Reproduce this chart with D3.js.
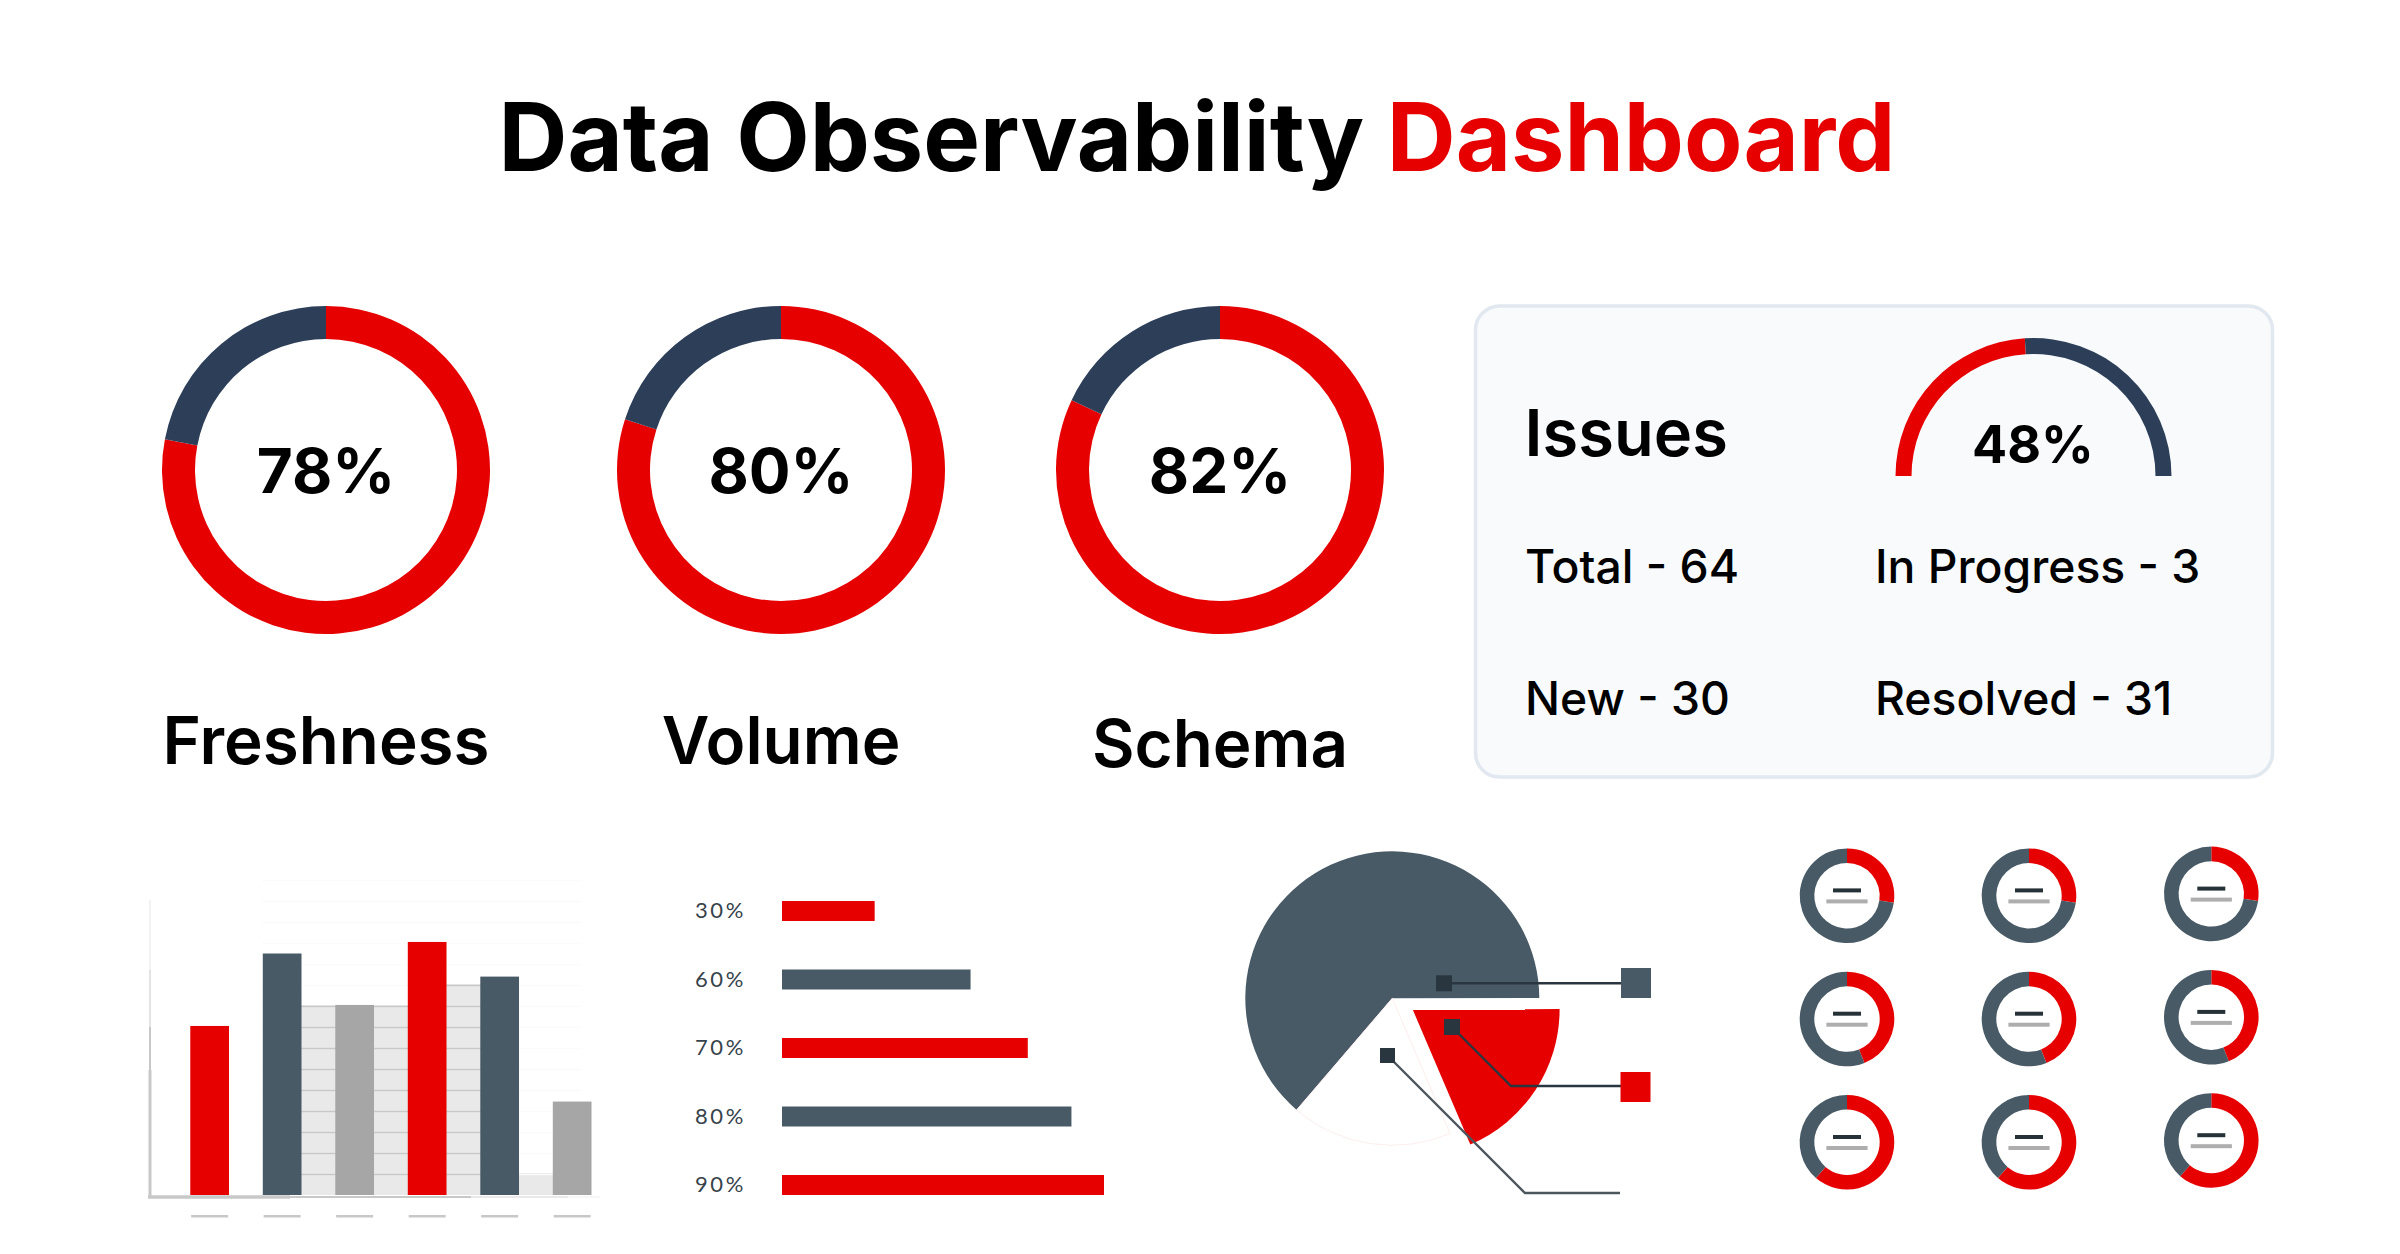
<!DOCTYPE html>
<html>
<head>
<meta charset="utf-8">
<script src="https://cdn.jsdelivr.net/npm/d3@7"></script>
<style>
	html, body { margin: 0; padding: 0; background: #fff; }
	text { font-family: Inter, "Noto Sans", sans-serif; }
</style>
</head>
<body>
<div id="chart"></div>
<script>
// Data
var gaugeNames = ["Freshness", "Volume", "Schema"];
var gaugeValues = [78, 80, 82];
var issueLabels = ["Total - 64", "In Progress - 3", "New - 30", "Resolved - 31"];
var issueGauge = 48;

var barCategories = ["a", "b", "c", "d", "e", "f"];
var barValues = [8.05, 11.5, 9.05, 12.05, 10.4, 4.45];
var backValues = [9.05, 9.05, 10.05, 1.05];

var hbarLabels = ["30%", "60%", "70%", "80%", "90%"];
var hbarValues = [25.9, 52.7, 68.7, 80.9, 90];

var pieValues = [63.7, 18.6, 17.7];
var miniValues = [27.4, 44, 61.4];

var red = "#e60000",
	navy = "#2c3e58",
	slate = "#485a66",
	ink = "#2a363f",
	grey = "#a6a6a6",
	axisGrey = "#c8c8c8";

var svg = d3.select("#chart")
	.append("svg")
	.attr("width", 2400)
	.attr("height", 1254)
	.style("display", "block");

// Title
var title = svg.append("text")
	.attr("x", 1197)
	.attr("y", 171)
	.attr("text-anchor", "middle")
	.attr("font-size", 95.4)
	.attr("font-weight", 700)
	.attr("fill", "#000");
title.append("tspan").text("Data Observability ");
title.append("tspan").attr("fill", red).text("Dashboard");

// Big donuts
var bigArc = d3.arc().innerRadius(131).outerRadius(164);
var bigX = [326, 781, 1220];
var bigLabelY = [764, 764, 767];

gaugeValues.forEach(function(v, i) {
	var g = svg.append("g").attr("transform", "translate(" + bigX[i] + ",470)");
	var pie = d3.pie().sort(null)([v, 100 - v]);
	g.selectAll("path")
		.data(pie)
		.enter()
		.append("path")
		.attr("d", bigArc)
		.attr("fill", function(d, j) { return j == 0 ? red : navy; });
	g.append("text")
		.attr("y", 23)
		.attr("text-anchor", "middle")
		.attr("font-size", 62)
		.attr("font-weight", 700)
		.text(v + "%");
	svg.append("text")
		.attr("x", bigX[i])
		.attr("y", bigLabelY[i])
		.attr("text-anchor", "middle")
		.attr("font-size", 65.5)
		.attr("font-weight", 600)
		.text(gaugeNames[i]);
});

// Issues panel
svg.append("rect")
	.attr("x", 1475.5)
	.attr("y", 306)
	.attr("width", 797)
	.attr("height", 471)
	.attr("rx", 24)
	.attr("fill", "#f8fafc")
	.attr("stroke", "#e2e8f0")
	.attr("stroke-width", 3.5);

svg.append("text")
	.attr("x", 1524.5)
	.attr("y", 456)
	.attr("font-size", 65)
	.attr("font-weight", 600)
	.text("Issues");

var issueX = [1525, 1875, 1525, 1875];
var issueY = [583, 583, 715, 715];
svg.selectAll("text.issue")
	.data(issueLabels)
	.enter()
	.append("text")
	.attr("class", "issue")
	.attr("x", function(d, i) { return issueX[i]; })
	.attr("y", function(d, i) { return issueY[i]; })
	.attr("font-size", 46.3)
	.attr("font-weight", 450)
	.text(function(d) { return d; });

var halfPie = d3.pie().sort(null).startAngle(-Math.PI / 2).endAngle(Math.PI / 2);
var gaugeArc = d3.arc().innerRadius(122).outerRadius(138);
svg.append("g")
	.attr("transform", "translate(2033.5,476)")
	.selectAll("path")
	.data(halfPie([issueGauge, 100 - issueGauge]))
	.enter()
	.append("path")
	.attr("d", gaugeArc)
	.attr("fill", function(d, i) { return i == 0 ? red : navy; });

svg.append("text")
	.attr("x", 2033)
	.attr("y", 463)
	.attr("text-anchor", "middle")
	.attr("font-size", 52)
	.attr("font-weight", 700)
	.text(issueGauge + "%");

// Column chart
var x = d3.scaleBand()
	.domain(barCategories)
	.range([156.5, 625.3])
	.paddingInner(0.466)
	.paddingOuter(0.466);
var y = d3.scaleLinear().domain([0, 15]).range([1195, 880]);
var barFill = [red, slate, grey, red, slate, grey];

var backCats = barCategories.slice(1, 5);
svg.selectAll("rect.back")
	.data(backValues)
	.enter()
	.append("rect")
	.attr("class", "back")
	.attr("x", function(d, i) { return x(backCats[i]) + x.bandwidth() / 2; })
	.attr("y", function(d) { return y(d); })
	.attr("width", x.step())
	.attr("height", function(d) { return y(0) - y(d); })
	.attr("fill", "#e9e9e9");

// grid: almost invisible on the white, darker over the grey blocks
var gridTicks = d3.range(1, 16);
var grid = d3.axisLeft(y).tickValues(gridTicks).tickSize(-320).tickFormat("");
svg.append("g")
	.attr("transform", "translate(262,0)")
	.call(grid)
	.call(function(g) {
		g.select(".domain").remove();
		g.selectAll("line").attr("stroke", "#fbfbfb").attr("stroke-width", 1.5);
	});
svg.append("clipPath")
	.attr("id", "backClip")
	.selectAll("rect")
	.data(backValues.slice(0, 3))
	.enter()
	.append("rect")
	.attr("x", function(d, i) { return x(backCats[i]) + x.bandwidth() / 2; })
	.attr("y", function(d) { return y(d); })
	.attr("width", x.step())
	.attr("height", function(d) { return y(0) - y(d); });
svg.append("g")
	.attr("clip-path", "url(#backClip)")
	.append("g")
	.attr("transform", "translate(262,0)")
	.call(grid)
	.call(function(g) {
		g.select(".domain").remove();
		g.selectAll("line").attr("stroke", "#c8c8c8").attr("stroke-width", 1.5);
	});

svg.selectAll("rect.bar")
	.data(barValues)
	.enter()
	.append("rect")
	.attr("class", "bar")
	.attr("x", function(d, i) { return x(barCategories[i]); })
	.attr("y", function(d) { return y(d); })
	.attr("width", x.bandwidth())
	.attr("height", function(d) { return y(0) - y(d); })
	.attr("fill", function(d, i) { return barFill[i]; });

// axis lines get thinner as they run away from the corner
var axisPieces = [
	[150, 1197, 150, 1070, 3],
	[150, 1070, 150, 1027, 2],
	[150, 1027, 150, 970, 1],
	[150, 970, 150, 900, 0.5],
	[148, 1197, 290, 1197, 3.5],
	[290, 1197, 471, 1197, 1.8],
	[471, 1197, 568, 1197, 0.8],
	[568, 1197, 600, 1197, 0.3]
];
svg.selectAll("line.axis")
	.data(axisPieces)
	.enter()
	.append("line")
	.attr("class", "axis")
	.attr("x1", function(d) { return d[0]; })
	.attr("y1", function(d) { return d[1]; })
	.attr("x2", function(d) { return d[2]; })
	.attr("y2", function(d) { return d[3]; })
	.attr("stroke", axisGrey)
	.attr("stroke-width", function(d) { return d[4]; });

svg.selectAll("rect.dash")
	.data(barCategories)
	.enter()
	.append("rect")
	.attr("class", "dash")
	.attr("x", function(d) { return x(d) + x.bandwidth() / 2 - 18.5; })
	.attr("y", 1215)
	.attr("width", 37)
	.attr("height", 2.5)
	.attr("fill", axisGrey);

// Horizontal bars
var hx = d3.scaleLinear().domain([0, 90]).range([782, 1104]);
var hy = d3.scaleBand()
	.domain(hbarLabels)
	.range([852.5, 1243.5])
	.padding(0.708);

svg.selectAll("rect.hbar")
	.data(hbarValues)
	.enter()
	.append("rect")
	.attr("class", "hbar")
	.attr("x", hx(0))
	.attr("y", function(d, i) { return hy(hbarLabels[i]); })
	.attr("width", function(d) { return hx(d) - hx(0); })
	.attr("height", hy.bandwidth())
	.attr("fill", function(d, i) { return i % 2 == 0 ? red : slate; });

svg.selectAll("text.hlabel")
	.data(hbarLabels)
	.enter()
	.append("text")
	.attr("class", "hlabel")
	.attr("x", 695)
	.attr("y", function(d) { return hy(d) + 17.5; })
	.attr("font-size", 22)
	.attr("letter-spacing", 2.6)
	.attr("fill", "#37434b")
	.style("font-family", "Lato")
	.text(function(d) { return d; });

// Exploded pie: the dark slice starts lower left and runs clockwise round to three o'clock
var pieStart = 220.6 * Math.PI / 180;
var pieSlices = d3.pie().sort(null).startAngle(pieStart).endAngle(pieStart + Math.PI * 2)(pieValues);
var pieArc = d3.arc().innerRadius(0).outerRadius(147);
var pieFill = [slate, red, "#fff"];
var pieStroke = ["none", "none", "#fdeeee"];
var pieOffset = [[0, 0], [20.3, 11], [0, 0]];

svg.append("g")
	.attr("transform", "translate(1392.3,998.3)")
	.selectAll("path")
	.data(pieSlices)
	.enter()
	.append("path")
	.attr("d", pieArc)
	.attr("transform", function(d, i) { return "translate(" + pieOffset[i] + ")"; })
	.attr("fill", function(d, i) { return pieFill[i]; })
	.attr("stroke", function(d, i) { return pieStroke[i]; });

var leaderLine = d3.line();
var leaders = [
	[[1444, 983.3], [1621, 983.3]],
	[[1452, 1027], [1511, 1086], [1621, 1086]],
	[[1388, 1056], [1525, 1193], [1620, 1193]]
];
svg.selectAll("path.leader")
	.data(leaders)
	.enter()
	.append("path")
	.attr("class", "leader")
	.attr("d", leaderLine)
	.attr("fill", "none")
	.attr("stroke", function(d, i) { return i == 2 ? "#4c565d" : ink; })
	.attr("stroke-width", 2.4);

var leaderDots = [[1436, 975.3, 16], [1444, 1019, 16], [1380, 1048, 15]];
svg.selectAll("rect.dot")
	.data(leaderDots)
	.enter()
	.append("rect")
	.attr("class", "dot")
	.attr("x", function(d) { return d[0]; })
	.attr("y", function(d) { return d[1]; })
	.attr("width", function(d) { return d[2]; })
	.attr("height", function(d) { return d[2]; })
	.attr("fill", ink);

var legendKeys = [[1621, 968, slate], [1620.5, 1072, red]];
svg.selectAll("rect.key")
	.data(legendKeys)
	.enter()
	.append("rect")
	.attr("class", "key")
	.attr("x", function(d) { return d[0]; })
	.attr("y", function(d) { return d[1]; })
	.attr("width", 30)
	.attr("height", 30)
	.attr("fill", function(d) { return d[2]; });

// Small donut grid, the same three values in every column
var miniArc = d3.arc().innerRadius(32.7).outerRadius(47.3);
var miniX = [1847, 2029, 2211.3];
var miniY = [895.7, 1019, 1142.3];
var miniLift = [0, 0, -1.8];

miniX.forEach(function(cx, c) {
	miniValues.forEach(function(v, r) {
		var g = svg.append("g")
			.attr("transform", "translate(" + cx + "," + (miniY[r] + miniLift[c]) + ")");
		g.selectAll("path")
			.data(d3.pie().sort(null)([v, 100 - v]))
			.enter()
			.append("path")
			.attr("d", miniArc)
			.attr("fill", function(d, j) { return j == 0 ? red : slate; });
		g.append("rect")
			.attr("x", -14)
			.attr("y", -7.3)
			.attr("width", 28)
			.attr("height", 4)
			.attr("fill", "#263238");
		g.append("rect")
			.attr("x", -20.6)
			.attr("y", 3.7)
			.attr("width", 41.2)
			.attr("height", 4)
			.attr("fill", "#aeaeae");
	});
});
</script>
</body>
</html>
